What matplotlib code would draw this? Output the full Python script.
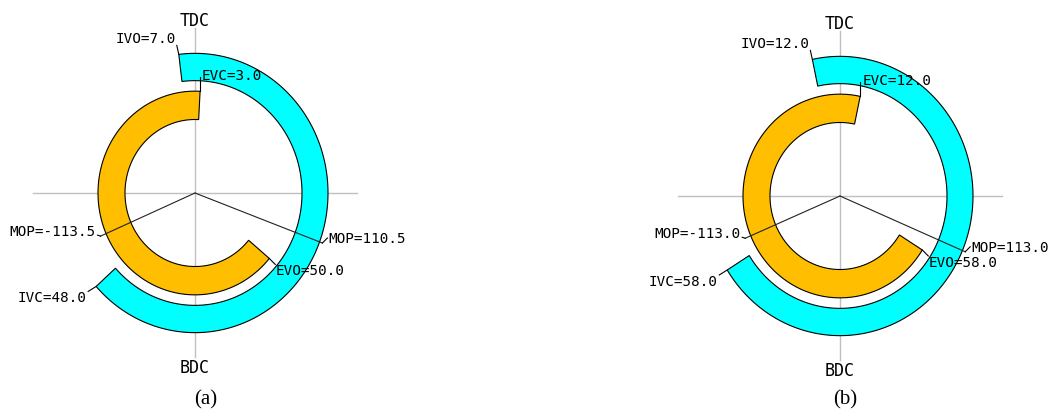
import matplotlib
matplotlib.use('Agg')
import matplotlib.pyplot as plt
from matplotlib.patches import Polygon
import numpy as np

# valve timing data (crank degrees)
panels = ['(a)', '(b)']
ivo = [7.0, 12.0]       # intake opens before TDC
ivc = [48.0, 58.0]      # intake closes after BDC
evo = [50.0, 58.0]      # exhaust opens before BDC
evc = [3.0, 12.0]       # exhaust closes after TDC
mop_in = [110.5, 113.0]
mop_ex = [-113.5, -113.0]

INTAKE_COLOR = '#00FFFF'
EXHAUST_COLOR = '#FFBE00'
STRETCH = 1.05            # picture is slightly taller than wide
R_EX = (70, 97)
R_IN = (107, 133)
MONO = 'DejaVu Sans Mono'


def pt(theta, r):
    t = np.radians(theta)
    return r * np.sin(t), STRETCH * r * np.cos(t)


def ring(ax, a0, a1, r0, r1, color):
    th = np.linspace(a0, a1, 200)
    outer = [pt(t, r1) for t in th]
    inner = [pt(t, r0) for t in th[::-1]]
    ax.add_patch(Polygon(outer + inner, closed=True, facecolor=color,
                         edgecolor='black', lw=0.8, zorder=2))


def label(ax, p, leader, off, text, ha):
    q = (p[0] + leader[0], p[1] + leader[1])
    ax.plot([p[0], q[0]], [p[1], q[1]], color='black', lw=0.8, zorder=4)
    ax.text(p[0] + off[0], p[1] + off[1], text, ha=ha, va='center',
            family=MONO, fontsize=10.3, zorder=5)


fig = plt.figure(figsize=(10.56, 4.16), dpi=100)
boxes = [([0, 0, 520 / 1056, 1], (-195, 325), (-223, 193), (11, -207)),
         ([520 / 1056, 0, 536 / 1056, 1], (-320, 216), (-220, 196), (5, -204))]

for i, (rect, xl, yl, cap) in enumerate(boxes):
    ax = fig.add_axes(rect)
    ax.set_xlim(*xl)
    ax.set_ylim(*yl)
    ax.axis('off')

    # cross hairs
    ax.plot([-162, 162], [0, 0], color='#c0c0c0', lw=1, zorder=1)
    ax.plot([0, 0], [-164, 165], color='#c0c0c0', lw=1, zorder=1)
    ax.text(0, 172, 'TDC', ha='center', va='center', family=MONO, fontsize=12)
    ax.text(0, -175, 'BDC', ha='center', va='center', family=MONO, fontsize=12)

    # intake and exhaust windows
    in0, in1 = -ivo[i], 180 + ivc[i]
    ex0, ex1 = 180 - evo[i], 360 + evc[i]
    ring(ax, in0, in1, R_IN[0], R_IN[1], INTAKE_COLOR)
    ring(ax, ex0, ex1, R_EX[0], R_EX[1], EXHAUST_COLOR)

    # max opening point lines
    pin = pt(mop_in[i], R_IN[1] + 3)
    pex = pt(mop_ex[i], R_EX[1] + 6)
    ax.plot([0, pin[0]], [0, pin[1]], color='#222222', lw=0.8, zorder=3)
    ax.plot([0, pex[0]], [0, pex[1]], color='#222222', lw=0.8, zorder=3)

    label(ax, pt(in0, R_IN[1]), (-2, 9), (-3, 15), f'IVO={ivo[i]:.1f}', 'right')
    label(ax, pt(ex1, R_EX[1]), (0, 14), (2, 15), f'EVC={evc[i]:.1f}', 'left')
    label(ax, pt(ex0, R_EX[1]), (6, -6), (6, -13), f'EVO={evo[i]:.1f}', 'left')
    label(ax, pt(in1, R_IN[1]), (-8, -5), (-10, -12), f'IVC={ivc[i]:.1f}', 'right')
    label(ax, pex, (-3, 1), (-5, 4), f'MOP={mop_ex[i]:.1f}', 'right')
    label(ax, pin, (5, 5), (6, 4), f'MOP={mop_in[i]:.1f}', 'left')

    ax.text(cap[0], cap[1], panels[i], ha='center', va='center',
            family='Liberation Serif', fontsize=15)

fig.savefig('out.png', dpi=100)
